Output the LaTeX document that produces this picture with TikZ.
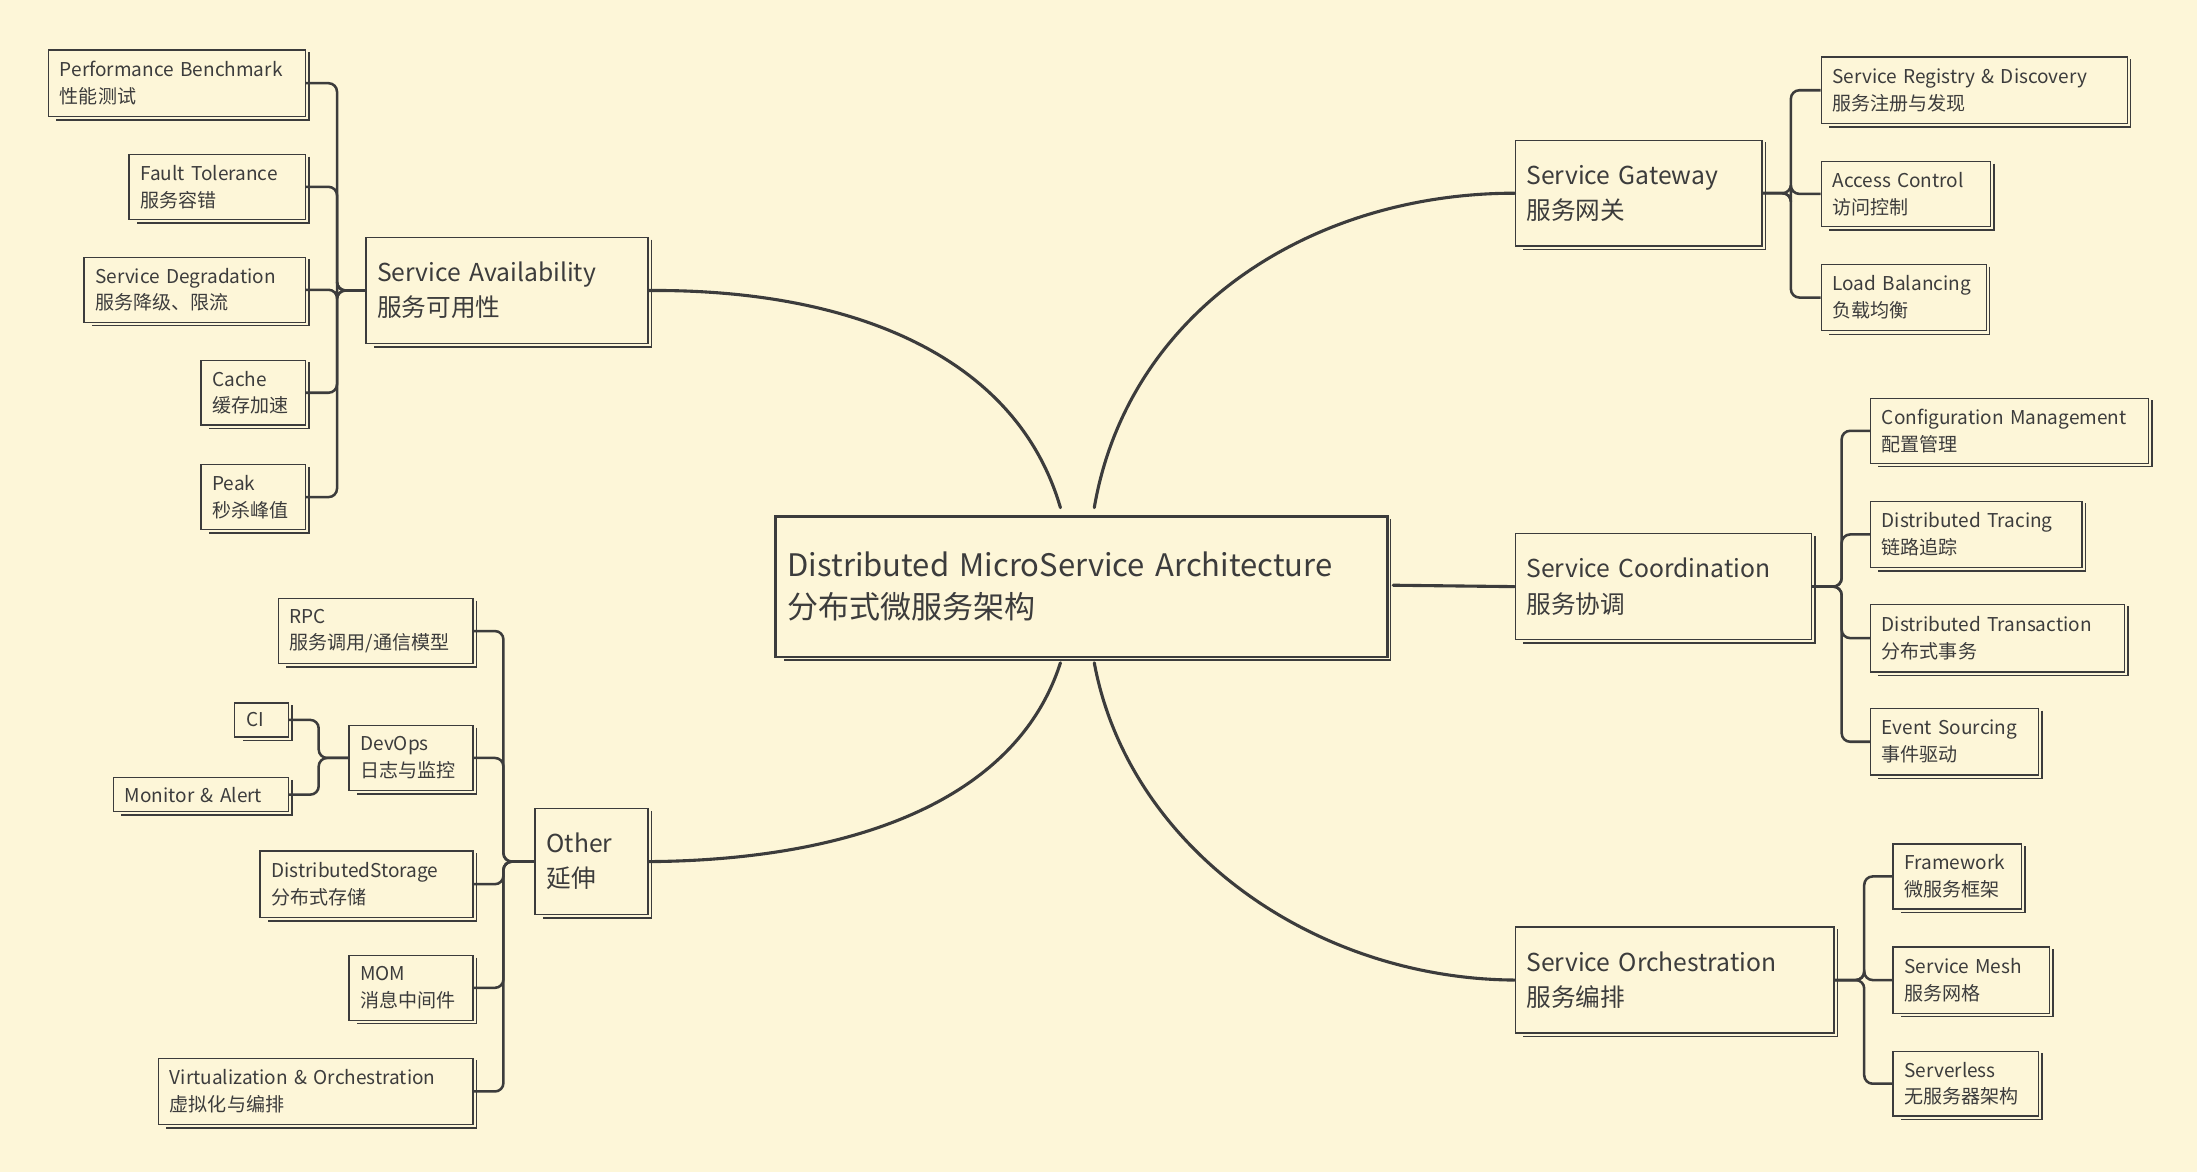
\documentclass[tikz,border=0pt]{standalone}
\usepackage{fontspec}
\setmainfont{Noto Sans CJK SC}
\definecolor{bg}{HTML}{FDF6D8}
\definecolor{ln}{HTML}{3C3C3C}
\tikzset{
 box/.style={draw=ln,line width=1pt,fill=bg,anchor=north west,align=left,inner xsep=8pt,inner ysep=2pt,text=ln},
 conn/.style={draw=ln,line width=2.2pt,line cap=round},
 br/.style={draw=ln,line width=1.8pt,rounded corners=6pt},
}
\newcommand{\bx}[7]{% name l t r b size text
 \pgfmathsetmacro{\tw}{#4-#2-16}
 \pgfmathsetmacro{\mh}{#5-#3}
 \node[box,text width=\tw pt,minimum height=\mh pt,font=#6] (#1) at (#2,#3) {#7};
 \draw[ln,line width=1pt] ([xshift=2pt,yshift=-2pt]#1.north east) -- ([xshift=2pt,yshift=-2pt]#1.south east) -- ([xshift=6pt,yshift=-2pt]#1.south west);
}
\begin{document}
\begin{tikzpicture}[x=1pt,y=-1pt]
\fill[bg] (0,0) rectangle (1558,831);
\useasboundingbox (0,0) rectangle (1558,831);
\def\S{\fontsize{13.5}{19}\selectfont}
\def\M{\fontsize{17.5}{25}\selectfont}
\def\L{\fontsize{22}{30}\selectfont}
% main
\bx{c}{550}{366}{983}{465}{\L}{Distributed MicroService Architecture\\分布式微服务架构}
\draw[ln,line width=1.8pt] (c.north west) rectangle (c.south east);
\bx{gw}{1074}{99}{1249}{174}{\M}{Service Gateway\\服务网关}
\bx{co}{1074}{378}{1284}{453}{\M}{Service Coordination\\服务协调}
\bx{or}{1074}{657}{1300}{732}{\M}{Service Orchestration\\服务编排}
\bx{av}{259}{168}{459}{243}{\M}{Service Availability\\服务可用性}
\bx{ot}{379}{573}{459}{648}{\M}{Other\\延伸}
% right leaves
\bx{r1}{1291}{40}{1508}{87}{\S}{Service Registry \& Discovery\\服务注册与发现}
\bx{r2}{1291}{114}{1411}{160}{\S}{Access Control\\访问控制}
\bx{r3}{1291}{187}{1408}{234}{\S}{Load Balancing\\负载均衡}
\bx{c1}{1326}{282}{1523}{328}{\S}{Configuration Management\\配置管理}
\bx{c2}{1326}{355}{1476}{402}{\S}{Distributed Tracing\\链路追踪}
\bx{c3}{1326}{428}{1506}{476}{\S}{Distributed Transaction\\分布式事务}
\bx{c4}{1326}{502}{1445}{549}{\S}{Event Sourcing\\事件驱动}
\bx{o1}{1342}{598}{1433}{644}{\S}{Framework\\微服务框架}
\bx{o2}{1342}{671}{1453}{718}{\S}{Service Mesh\\服务网格}
\bx{o3}{1342}{745}{1445}{791}{\S}{Serverless\\无服务器架构}
% left leaves
\bx{a1}{34}{35}{216}{82}{\S}{Performance Benchmark\\性能测试}
\bx{a2}{91}{109}{216}{155}{\S}{Fault Tolerance\\服务容错}
\bx{a3}{59}{182}{216}{228}{\S}{Service Degradation\\服务降级、限流}
\bx{a4}{142}{255}{216}{301}{\S}{Cache\\缓存加速}
\bx{a5}{142}{329}{216}{375}{\S}{Peak\\秒杀峰值}
\bx{t1}{197}{424}{335}{470}{\S}{RPC\\服务调用/通信模型}
\bx{t2}{247}{514}{335}{560}{\S}{DevOps\\日志与监控}
\bx{t3}{184}{603}{335}{650}{\S}{DistributedStorage\\分布式存储}
\bx{t4}{247}{677}{335}{723}{\S}{MOM\\消息中间件}
\bx{t5}{112}{750}{335}{797}{\S}{Virtualization \& Orchestration\\虚拟化与编排}
\bx{d1}{166}{498}{204}{522}{\S}{CI}
\bx{d2}{80}{551}{204}{575}{\S}{Monitor \& Alert}
% curves
\draw[conn] (776,360) .. controls (800,220) and (930,137) .. (gw.west);
\draw[conn] (752,360) .. controls (720,250) and (600,205) .. (av.east);
\draw[conn] (752,470) .. controls (720,570) and (600,610) .. (ot.east);
\draw[conn] (776,470) .. controls (800,600) and (930,694) .. (or.west);
\draw[conn] (988,415) -- (co.west);
% brackets right
\foreach \n in {r1,r2,r3} \draw[br] (gw.east) -- (1270,0 |- gw.east) |- (\n.west);
\foreach \n in {c1,c2,c3,c4} \draw[br] (co.east) -- (1306,0 |- co.east) |- (\n.west);
\foreach \n in {o1,o2,o3} \draw[br] (or.east) -- (1322,0 |- or.east) |- (\n.west);
% brackets left
\foreach \n in {a1,a2,a3,a4,a5} \draw[br] (av.west) -- (239,0 |- av.west) |- (\n.east);
\foreach \n in {t1,t2,t3,t4,t5} \draw[br] (ot.west) -- (357,0 |- ot.west) |- (\n.east);
\foreach \n in {d1,d2} \draw[br] (t2.west) -- (226,0 |- t2.west) |- (\n.east);
\end{tikzpicture}
\end{document}
